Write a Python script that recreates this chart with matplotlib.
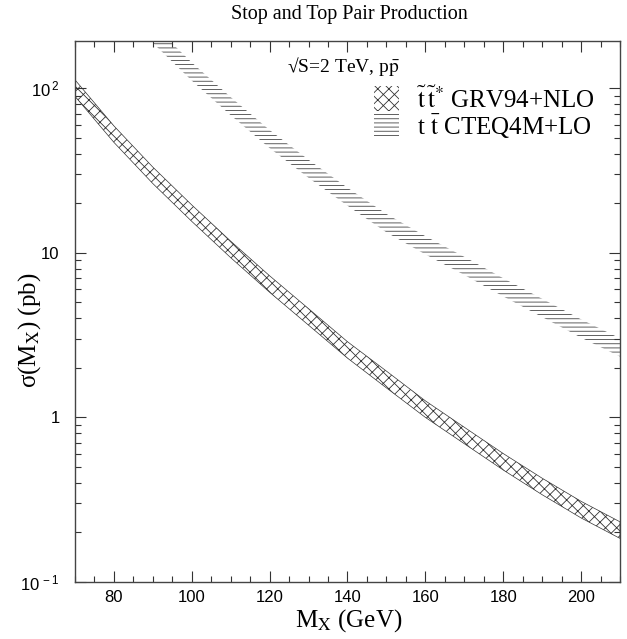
import numpy as np
import matplotlib
matplotlib.use("Agg")
import matplotlib.pyplot as plt
from matplotlib.patches import Rectangle
from matplotlib.ticker import FixedLocator, FixedFormatter, MultipleLocator, LogLocator, NullFormatter

# ---------------- data ----------------
mass_stop = [70, 80, 90, 100, 110, 120, 130, 140, 150, 160, 170, 180, 190, 200, 210]
stop_hi = [112.2, 58.9, 33.1, 19.5, 11.75, 7.24, 4.57, 2.88, 1.91, 1.26, 0.871, 0.603, 0.427, 0.309, 0.232]
stop_lo = [89.1, 46.8, 26.3, 15.5, 9.33, 5.75, 3.63, 2.29, 1.51, 1.00, 0.692, 0.479, 0.339, 0.245, 0.184]

mass_top = [85, 90, 100, 110, 120, 130, 140, 150, 160, 170, 180, 190, 200, 210]
top_hi = [320, 243, 143, 88.1, 55.6, 36.7, 24.8, 17.2, 12.6, 9.44, 7.0, 5.25, 3.94, 3.02]
top_lo = [248, 188, 111, 68.4, 43.2, 28.5, 19.3, 13.3, 9.77, 7.33, 5.43, 4.07, 3.05, 2.34]

y_ticks = [0.1, 1, 10, 100]
y_ticklabels = [r'$\mathregular{10^{\,-1}}$', '1', '10', r'$\mathregular{10^{\,2}}$']
x_ticks = [80, 100, 120, 140, 160, 180, 200]

title = 'Stop and Top Pair Production'
energy_label = r'√S=2 TeV, p$\bar{\mathrm{p}}$'
legend_labels = [r'$\tilde{\mathrm{t}}\,\tilde{\mathrm{t}}^{*}$ GRV94+NLO',
                 r't $\bar{\mathrm{t}}$ CTEQ4M+LO']

# ---------------- figure ----------------
plt.rcParams['hatch.linewidth'] = 0.6
W, H = 627, 639
fig = plt.figure(figsize=(W / 100, H / 100), dpi=100)
L, R, T, B = 75, 620, 40.7, 582
ax = fig.add_axes([L / W, 1 - B / H, (R - L) / W, (B - T) / H])
ax.set_yscale('log')
ax.set_xlim(70, 210)
ax.set_ylim(0.1, 194)

ax.fill_between(mass_top, top_lo, top_hi, facecolor='none', edgecolor='#444444',
                hatch='----', linewidth=0)
ax.fill_between(mass_stop, stop_lo, stop_hi, facecolor='none', edgecolor='#333333',
                hatch='xxx', linewidth=0.5)

# ticks
ax.xaxis.set_major_locator(FixedLocator(x_ticks))
ax.xaxis.set_minor_locator(MultipleLocator(5))
ax.yaxis.set_major_locator(FixedLocator(y_ticks))
ax.yaxis.set_major_formatter(FixedFormatter(y_ticklabels))
ax.yaxis.set_minor_locator(LogLocator(base=10, subs=np.arange(2, 10)))
ax.yaxis.set_minor_formatter(NullFormatter())
ax.tick_params(which='both', direction='in', top=True, right=True, colors='#333333',
               labelcolor='black', width=0.8)
ax.tick_params(which='major', length=8, labelsize=12)
ax.tick_params(axis='x', which='major', pad=6)
ax.tick_params(axis='y', which='major', pad=11)
ax.tick_params(which='minor', length=4.5)
for lab in ax.get_xticklabels() + ax.get_yticklabels():
    lab.set_fontfamily('Liberation Sans')
for sp in ax.spines.values():
    sp.set_color('#444444')
    sp.set_linewidth(1.0)

serif = 'Liberation Serif'
fig.text(349 / W, 1 - 15 / H, title, family=serif, size=14.5, ha='center', va='center')
fig.text(287 / W, 1 - 66 / H, energy_label, family=serif, size=14, ha='left', va='center',
         math_fontfamily='stix')

# legend boxes
fig.add_artist(Rectangle((374 / W, 1 - 111 / H), 25 / W, 25 / H, transform=fig.transFigure,
                         facecolor='none', edgecolor='#333333', hatch='xxx', linewidth=0))
fig.add_artist(Rectangle((374 / W, 1 - 139 / H), 25 / W, 26 / H, transform=fig.transFigure,
                         facecolor='none', edgecolor='#444444', hatch='----', linewidth=0))
fig.text(417 / W, 1 - 100 / H, legend_labels[0], family=serif, size=18, ha='left', va='center',
         math_fontfamily='stix')
fig.text(417 / W, 1 - 127 / H, legend_labels[1], family=serif, size=18, ha='left', va='center',
         math_fontfamily='stix')

# axis labels
fig.text(349 / W, 1 - 621 / H, r'M$_{\mathrm{X}}$ (GeV)', family=serif, size=18,
         ha='center', va='center', math_fontfamily='stix')
fig.text(30 / W, 1 - 330 / H, r'σ(M$_{\mathrm{X}}$) (pb)', family=serif, size=18,
         ha='center', va='center', rotation=90, math_fontfamily='stix')

fig.savefig('out.png', dpi=100)
